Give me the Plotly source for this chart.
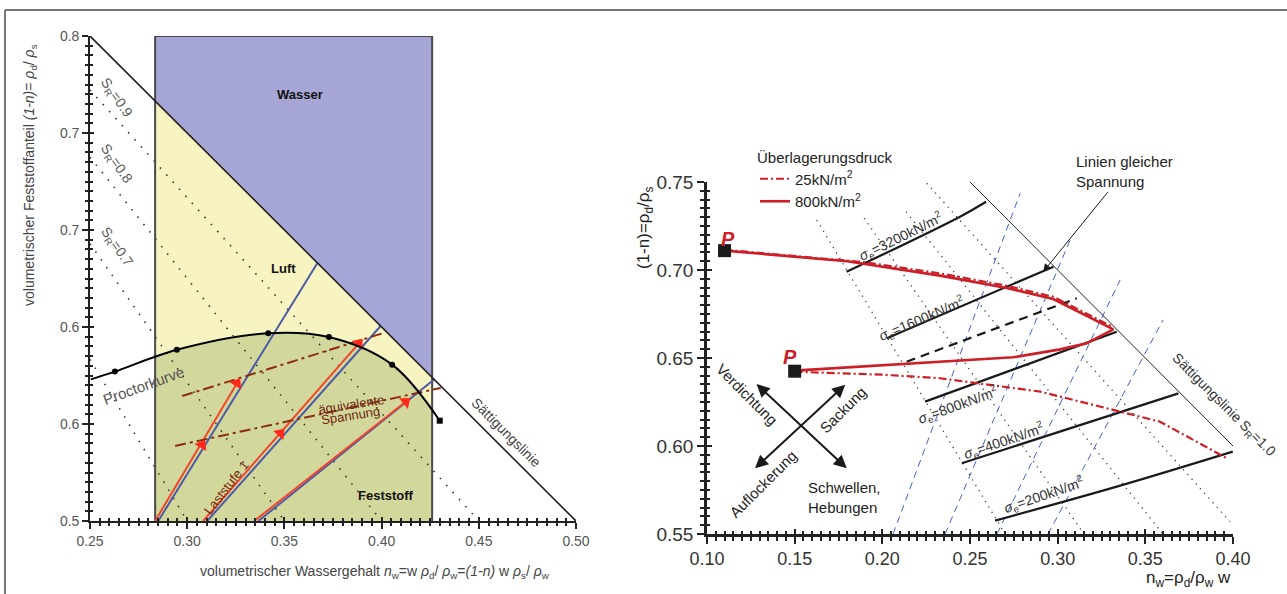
import plotly.graph_objects as go

FONT = "Liberation Sans, Arial, sans-serif"
W, H = 1287, 594

# ---------------- Left chart data ----------------
proctor_x = [0.2504, 0.2628, 0.2947, 0.3417, 0.3729, 0.4054, 0.4299]
proctor_y = [0.5730, 0.5770, 0.5883, 0.5968, 0.5948, 0.5806, 0.5517]
green_x = [0.2835, 0.2947, 0.3417, 0.3729, 0.4054, 0.4260]
green_y = [0.5845, 0.5883, 0.5968, 0.5948, 0.5806, 0.5563]
box_x = [0.2835, 0.4260]
box_y = [0.50, 0.75]
sat_cut_y = [0.7165, 0.5740]          # saturation line at the box edges
sat_left_x = [0.25, 0.50]
sat_left_y = [0.75, 0.50]
sr_left_names = ["0.9", "0.8", "0.7", "0.6"]
sr_left_start_y = [0.7222, 0.6875, 0.6429, 0.5833]   # at x = 0.25
sr_left_end_x = [0.45, 0.40, 0.35, 0.30]             # at y = 0.50
blue_x0 = [0.2851, 0.3103, 0.3366]
blue_x1 = [0.3670, 0.3995, 0.4273]
blue_y1 = [0.6330, 0.6005, 0.5732]
red_x0 = [0.2835, 0.3082, 0.3345]
red_x1 = [0.3256, 0.3883, 0.4124]
red_y1 = [0.5710, 0.5916, 0.5615]
arrow_x = [0.3076, 0.3256, 0.3479, 0.3883, 0.4124]
arrow_y = [0.5392, 0.5710, 0.5452, 0.5916, 0.5615]
arrow_ang = [31, 31, 41, 41, 51]
equi_x = [[0.2974, 0.4010], [0.2938, 0.4304]]
equi_y = [[0.5644, 0.5969], [0.5387, 0.5686]]
left_yticks = [0.50, 0.55, 0.60, 0.65, 0.70, 0.75]
left_yticktext = ["0.5", "0.6", "0.6", "0.7", "0.7", "0.8"]
left_xticks = [0.25, 0.30, 0.35, 0.40, 0.45, 0.50]
left_xticktext = ["0.25", "0.30", "0.35", "0.40", "0.45", "0.50"]

# ---------------- Right chart data ----------------
sat_right_x = [0.25, 0.40]
sat_right_y = [0.75, 0.60]
stress_names = ["3200", "1600", "800", "400", "200"]
stress_x = [[0.1796, 0.2443, 0.2592], [0.2026, 0.2976], [0.2244, 0.3337],
            [0.2453, 0.3689], [0.2643, 0.3337, 0.3999]]
stress_y = [[0.6990, 0.7303, 0.7388], [0.6612, 0.7019], [0.6252, 0.6649],
            [0.5902, 0.6299], [0.5576, 0.5769, 0.5968]]
dashed_x = [0.2139, 0.3109]
dashed_y = [0.6479, 0.6839]
sr_right_x = [[0.1626, 0.2700], [0.1896, 0.3150], [0.2136, 0.3600], [0.2253, 0.3983]]
sr_right_y = [[0.7284, 0.5500], [0.7295, 0.5500], [0.7330, 0.5500], [0.7493, 0.5570]]
wline_x = [[0.2061, 0.2786], [0.2358, 0.3071], [0.2654, 0.3356], [0.2945, 0.3601]]
wline_y = [[0.5500, 0.7436], [0.5500, 0.7170], [0.5500, 0.6943], [0.5500, 0.6716]]
up25_x = [0.110, 0.189, 0.2329, 0.2710, 0.2975, 0.3318]
up25_y = [0.7115, 0.7045, 0.6981, 0.6910, 0.6848, 0.6675]
up800_x = [0.110, 0.180, 0.2329, 0.2710, 0.2975, 0.3318]
up800_y = [0.7110, 0.7050, 0.6968, 0.6898, 0.6835, 0.6663]
lo800_x = [0.150, 0.2329, 0.2746, 0.3014, 0.3166, 0.3318]
lo800_y = [0.6428, 0.6479, 0.6504, 0.6549, 0.6584, 0.6663]
lo25_x = [0.150, 0.200, 0.2329, 0.2900, 0.3318, 0.3584, 0.3965]
lo25_y = [0.6422, 0.6405, 0.6385, 0.6309, 0.6205, 0.6138, 0.5930]
p_x = [0.110, 0.150]
p_y = [0.7110, 0.6425]
right_xticks = [0.10, 0.15, 0.20, 0.25, 0.30, 0.35, 0.40]
right_yticks = [0.55, 0.60, 0.65, 0.70, 0.75]

RED = "#cc1f27"
BLUE_DASH = "#3f63c8"

fig = go.Figure()

def add(tr):
    fig.add_trace(tr)

# ===== left chart =====
L = dict(xaxis="x", yaxis="y", showlegend=False, hoverinfo="skip")
add(go.Scatter(x=[box_x[0], box_x[0], box_x[1], box_x[1]],
               y=[box_y[0], box_y[1], box_y[1], box_y[0]],
               fill="toself", fillcolor="#a6a6d6", mode="none", **L))
add(go.Scatter(x=[box_x[0], box_x[0], box_x[1], box_x[1]],
               y=[box_y[0], sat_cut_y[0], sat_cut_y[1], box_y[0]],
               fill="toself", fillcolor="#f7f4c2", mode="none", **L))
add(go.Scatter(x=green_x, y=green_y, fill="tozeroy", fillcolor="#d2d89c",
               mode="lines", line=dict(width=0, shape="spline"), **L))
for sy, ex in zip(sr_left_start_y, sr_left_end_x):
    add(go.Scatter(x=[0.25, ex], y=[sy, 0.50], mode="lines",
                   line=dict(color="#333", width=1.6, dash="1.5px,8px"), **L))
add(go.Scatter(x=[box_x[0], box_x[0], box_x[1], box_x[1]],
               y=[box_y[0], box_y[1], box_y[1], box_y[0]],
               mode="lines", line=dict(color="#4a4a4a", width=2), **L))
for i in range(3):
    add(go.Scatter(x=[blue_x0[i], blue_x1[i]], y=[0.5, blue_y1[i]], mode="lines",
                   line=dict(color="#4d5aa6", width=2), **L))
    add(go.Scatter(x=[red_x0[i], red_x1[i]], y=[0.5, red_y1[i]], mode="lines",
                   line=dict(color="#f0462c", width=2), **L))
for ex, ey in zip(equi_x, equi_y):
    add(go.Scatter(x=ex, y=ey, mode="lines",
                   line=dict(color="#8e2d12", width=2, dash="11px,4px,3px,4px"), **L))
add(go.Scatter(x=arrow_x, y=arrow_y, mode="markers",
               marker=dict(symbol="triangle-up", size=12, color="#ff2a1a", angle=arrow_ang), **L))
add(go.Scatter(x=proctor_x, y=proctor_y, mode="lines", line=dict(color="black", width=2, shape="spline"), **L))
add(go.Scatter(x=proctor_x[1:-1], y=proctor_y[1:-1], mode="markers",
               marker=dict(symbol="circle", size=6, color="black"), **L))
add(go.Scatter(x=proctor_x[-1:], y=proctor_y[-1:], mode="markers",
               marker=dict(symbol="square", size=6, color="black"), **L))
add(go.Scatter(x=sat_left_x, y=sat_left_y, mode="lines", line=dict(color="#222", width=1.6), **L))

# ===== right chart =====
R = dict(xaxis="x2", yaxis="y2", hoverinfo="skip")
for sx, sy in zip(sr_right_x, sr_right_y):
    add(go.Scatter(x=sx, y=sy, mode="lines", showlegend=False,
                   line=dict(color="#444", width=1.3, dash="1.3px,5px"), **R))
for wx, wy in zip(wline_x, wline_y):
    add(go.Scatter(x=wx, y=wy, mode="lines", showlegend=False,
                   line=dict(color=BLUE_DASH, width=1, dash="7px,5px"), **R))
add(go.Scatter(x=sat_right_x, y=sat_right_y, mode="lines", showlegend=False,
               line=dict(color="#222", width=1), **R))
for sx, sy in zip(stress_x, stress_y):
    add(go.Scatter(x=sx, y=sy, mode="lines", showlegend=False,
                   line=dict(color="#1a1a1a", width=2.2, shape="spline"), **R))
add(go.Scatter(x=dashed_x, y=dashed_y, mode="lines", showlegend=False,
               line=dict(color="#1a1a1a", width=2.2, dash="9px,6px"), **R))
add(go.Scatter(x=up800_x, y=up800_y, mode="lines", name="800kN/m<sup>2</sup>", legendgroup="800",
               showlegend=False, line=dict(color=RED, width=2.6), **R))
add(go.Scatter(x=lo800_x, y=lo800_y, mode="lines", name="800kN/m<sup>2</sup>", legendgroup="800",
               showlegend=False, line=dict(color=RED, width=2.6), **R))
add(go.Scatter(x=up25_x, y=up25_y, mode="lines", name="25kN/m<sup>2</sup>", legendgroup="25",
               showlegend=True, legendrank=1, line=dict(color=RED, width=2.2, dash="8px,3px,2px,3px"), **R))
add(go.Scatter(x=lo25_x, y=lo25_y, mode="lines", name="25kN/m<sup>2</sup>", legendgroup="25",
               showlegend=False, line=dict(color=RED, width=2.2, dash="8px,3px,2px,3px"), **R))
add(go.Scatter(x=[None], y=[None], mode="lines", name="800kN/m<sup>2</sup>", legendgroup="800",
               showlegend=True, legendrank=2, line=dict(color=RED, width=2.6), **R))
add(go.Scatter(x=p_x, y=p_y, mode="markers", showlegend=False,
               marker=dict(symbol="square", size=13, color="#1a1a1a"), **R))

# invisible traces carrying the inner tick axes (crossing tick marks)
add(go.Scatter(x=[None], y=[None], xaxis="x3", yaxis="y3", showlegend=False, hoverinfo="skip"))
add(go.Scatter(x=[None], y=[None], xaxis="x4", yaxis="y4", showlegend=False, hoverinfo="skip"))

# ---------------- annotations ----------------
ann = []
def txt(x, y, text, size=13, color="#222", angle=0, ref="", bold=False, italic=False,
        xanchor="center", yanchor="middle", align="center"):
    if bold:
        text = "<b>" + text + "</b>"
    if italic:
        text = "<i>" + text + "</i>"
    ann.append(dict(x=x, y=y, xref="x" + ref, yref="y" + ref, text=text, showarrow=False,
                    textangle=angle, font=dict(family=FONT, size=size, color=color),
                    xanchor=xanchor, yanchor=yanchor, align=align))

txt(0.3582, 0.7201, "Wasser", 13, "#111", bold=True)
txt(0.3495, 0.6299, "Luft", 13, "#111", bold=True)
txt(0.4021, 0.5134, "Feststoff", 13, "#111", bold=True)
txt(0.2775, 0.5700, "Proctorkurve", 15, "#555", angle=-20)
txt(0.4640, 0.5459, "Sättigungslinie", 14, "#444", angle=45)
txt(0.3200, 0.5175, "Laststufe 1", 13, "#7a2a10", angle=-52)
txt(0.3845, 0.5603, "äquivalente", 13, "#6e2410", angle=-9)
txt(0.3842, 0.5543, "Spannung", 13, "#6e2410", angle=-9)
for nm, yy in zip(sr_left_names[:3], [0.7180, 0.6840, 0.6410]):
    txt(0.2635, yy, "S<sub>R</sub>=" + nm, 14, "#555", angle=55)

sig_pos = [(0.2101, 0.7190, -26), (0.2221, 0.6722, -23), (0.2432, 0.6233, -20),
           (0.2694, 0.6028, -19), (0.2922, 0.5722, -19)]
for nm, (sx, sy, ang) in zip(stress_names, sig_pos):
    txt(sx, sy, "<i>σ</i><sub>e</sub>=" + nm + "kN/m<sup>2</sup>", 14, "#333", angle=ang, ref="2")
txt(0.3945, 0.6232, "Sättigungslinie S<sub>R</sub>=1.0", 14, "#333", angle=45, ref="2")
txt(0.1122, 0.7175, "P", 20, RED, ref="2", bold=True, italic=True)
txt(0.1473, 0.6507, "P", 20, RED, ref="2", bold=True, italic=True)
txt(0.1228, 0.6290, "Verdichtung", 15, "#222", angle=45, ref="2")
txt(0.1778, 0.6205, "Sackung", 15, "#222", angle=-45, ref="2")
txt(0.1321, 0.5788, "Auflockerung", 15, "#222", angle=-45, ref="2")
txt(0.1565, 0.5710, "Schwellen,<br>Hebungen", 15, "#222", ref="2", xanchor="left", align="left")

cross = [((0.1274, 0.6360), (0.1797, 0.5873)), ((0.1797, 0.6356), (0.1274, 0.5873))]
for (x0, y0), (x1, y1) in cross:
    ann.append(dict(x=x1, y=y1, ax=x0, ay=y0, xref="x2", yref="y2", axref="x2", ayref="y2",
                    text="", showarrow=True, arrowhead=2, arrowside="end+start",
                    arrowsize=1.3, arrowwidth=2, arrowcolor="#1a1a1a"))
ann.append(dict(x=0.2917, y=0.6989, xref="x2", yref="y2", ax=81, ay=-100,
                text="Linien gleicher<br>Spannung", showarrow=True, arrowhead=2,
                arrowsize=1.6, arrowwidth=1, arrowcolor="#1a1a1a", align="left",
                font=dict(family=FONT, size=15, color="#222")))

def paper_txt(px, py, text, size, color, angle=0, xanchor="center"):
    ann.append(dict(x=px / W, y=1 - py / H, xref="paper", yref="paper", textangle=angle,
                    showarrow=False, xanchor=xanchor, yanchor="middle", text=text,
                    font=dict(family=FONT, size=size, color=color)))

paper_txt(30, 175, "volumetrischer Feststoffanteil <i>(1-n)</i>= <i>ρ</i><sub>d</sub>/ <i>ρ</i><sub>s</sub>",
          14, "#444", angle=-90)
paper_txt(375, 572, "volumetrischer Wassergehalt <i>n</i><sub>w</sub>=w <i>ρ</i><sub>d</sub>/ <i>ρ</i><sub>w</sub>"
          "=<i>(1-n)</i> w <i>ρ</i><sub>s</sub>/ <i>ρ</i><sub>w</sub>", 14, "#444")
paper_txt(645, 228, "(1-n)=ρ<sub>d</sub>/ρ<sub>s</sub>", 17, "#222", angle=-90)
paper_txt(1233, 579, "n<sub>w</sub>=ρ<sub>d</sub>/ρ<sub>w</sub> w", 17, "#222", xanchor="right")

shapes = [
    dict(type="line", xref="paper", yref="paper", x0=5 / W, x1=1.0, y0=1 - 10 / H, y1=1 - 10 / H,
         line=dict(color="#777", width=2)),
    dict(type="line", xref="paper", yref="paper", x0=5 / W, x1=5 / W, y0=0, y1=1 - 10 / H,
         line=dict(color="#777", width=2)),
]

axis_common = dict(showgrid=False, zeroline=False, showline=True, linecolor="#222", ticks="outside",
                   tickcolor="#222", automargin=False)
inner_common = dict(showgrid=False, zeroline=False, showline=False, ticks="inside", tickcolor="#222",
                    showticklabels=False, automargin=False)
LX = dict(range=[0.25, 0.50], tickvals=left_xticks)
LY = dict(range=[0.50, 0.75], tickvals=left_yticks)
RX = dict(range=[0.10, 0.40], tickvals=right_xticks)
RY = dict(range=[0.55, 0.75], tickvals=right_yticks)
fig.update_layout(
    width=W, height=H, autosize=False, margin=dict(l=0, r=0, t=0, b=0, pad=0, autoexpand=False),
    paper_bgcolor="white", plot_bgcolor="rgba(0,0,0,0)",
    font=dict(family=FONT),
    xaxis=dict(domain=[90 / W, 576 / W], ticktext=left_xticktext,
               linewidth=1.6, ticklen=6, tickwidth=1.5, tickfont=dict(size=14, color="#555"),
               minor=dict(dtick=0.005, ticklen=3, tickcolor="#222", ticks="outside"), anchor="y",
               **LX, **axis_common),
    yaxis=dict(domain=[1 - 521 / H, 1 - 36 / H], ticktext=left_yticktext,
               linewidth=1.6, ticklen=6, tickwidth=1.5, tickfont=dict(size=14, color="#555"),
               minor=dict(dtick=0.005, ticklen=3, tickcolor="#222", ticks="outside"), anchor="x",
               **LY, **axis_common),
    xaxis3=dict(overlaying="x", anchor="y", side="bottom", ticklen=4, tickwidth=1.5,
                minor=dict(dtick=0.005, ticklen=3, tickcolor="#222", ticks="inside"), **LX, **inner_common),
    yaxis3=dict(overlaying="y", anchor="x", side="left", ticklen=4, tickwidth=1.5,
                minor=dict(dtick=0.005, ticklen=3, tickcolor="#222", ticks="inside"), **LY, **inner_common),
    xaxis2=dict(domain=[707 / W, 1233 / W], ticktext=["%.2f" % v for v in right_xticks],
                linewidth=2.5, ticklen=7, tickwidth=2, tickfont=dict(size=18, color="#333"),
                minor=dict(dtick=0.005, ticklen=4, tickwidth=1.5, tickcolor="#222", ticks="outside"),
                anchor="y2", **RX, **axis_common),
    yaxis2=dict(domain=[1 - 534 / H, 1 - 182 / H], ticktext=["%.2f" % v for v in right_yticks],
                linewidth=2.5, ticklen=7, tickwidth=2, tickfont=dict(size=19, color="#333"),
                minor=dict(dtick=0.005, ticklen=4, tickwidth=1.5, tickcolor="#222", ticks="outside"),
                anchor="x2", **RY, **axis_common),
    xaxis4=dict(overlaying="x2", anchor="y2", side="bottom", ticklen=5, tickwidth=2,
                minor=dict(dtick=0.005, ticklen=3, tickwidth=1.5, tickcolor="#222", ticks="inside"),
                **RX, **inner_common),
    yaxis4=dict(overlaying="y2", anchor="x2", side="left", ticklen=5, tickwidth=2,
                minor=dict(dtick=0.005, ticklen=3, tickwidth=1.5, tickcolor="#222", ticks="inside"),
                **RY, **inner_common),
    legend=dict(x=755 / W, y=1 - 143 / H, xanchor="left", yanchor="top", bgcolor="rgba(0,0,0,0)",
                title=dict(text="Überlagerungsdruck", font=dict(family=FONT, size=15, color="#222")),
                font=dict(family=FONT, size=15, color="#222"), tracegroupgap=0, itemwidth=30),
    annotations=ann, shapes=shapes,
)

fig.write_html("out.html", config={"displayModeBar": False},
               post_script="document.body.style.margin='0px';document.body.style.overflow='hidden';")
